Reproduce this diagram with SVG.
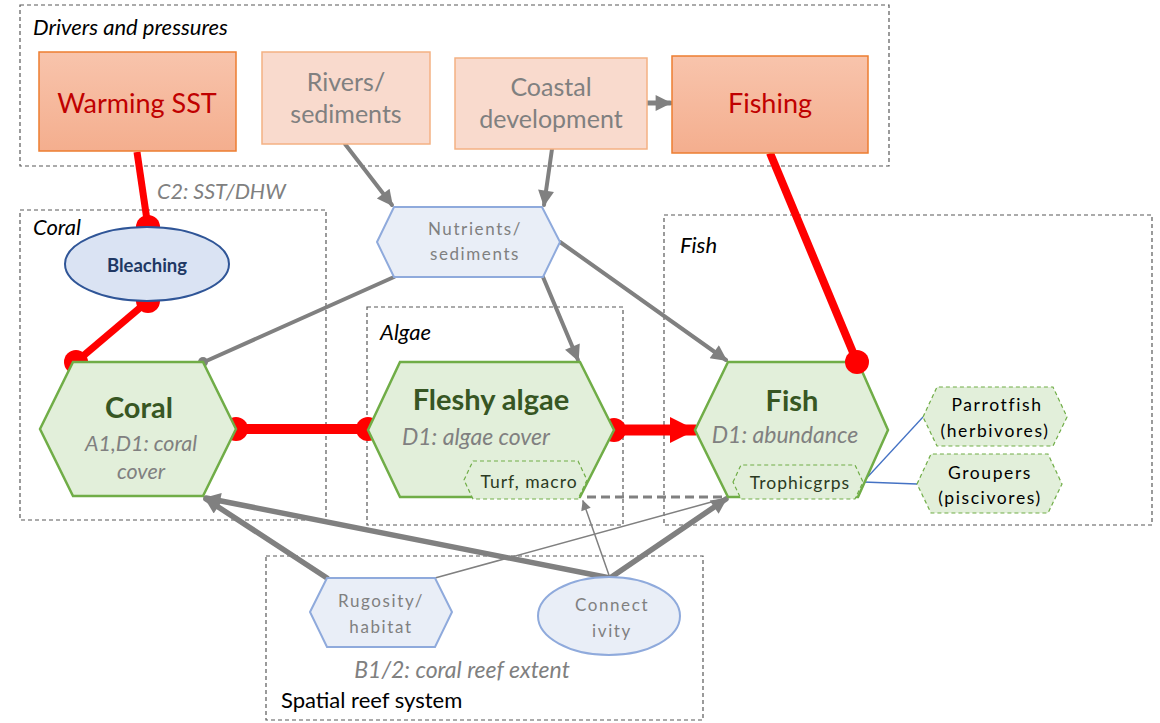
<svg xmlns="http://www.w3.org/2000/svg" width="1160" height="723" viewBox="0 0 1160 723">
<defs>
<linearGradient id="gOr" x1="0" y1="0" x2="0" y2="1"><stop offset="0" stop-color="#F8C4AC"/><stop offset="1" stop-color="#F4AE8E"/></linearGradient>
<marker id="ag" viewBox="0 0 10 10" refX="9" refY="5" markerWidth="18" markerHeight="16" markerUnits="userSpaceOnUse" orient="auto"><path d="M0,0 L10,5 L0,10 z" fill="#808080"/></marker>
<marker id="agS" viewBox="0 0 10 10" refX="9" refY="5" markerWidth="11" markerHeight="10" markerUnits="userSpaceOnUse" orient="auto"><path d="M0,0 L10,5 L0,10 z" fill="#808080"/></marker>
<marker id="ar" viewBox="0 0 10 10" refX="10" refY="5" markerWidth="26" markerHeight="26" markerUnits="userSpaceOnUse" orient="auto"><path d="M0,0 L10,5 L0,10 z" fill="#FF0000"/></marker>
</defs>
<style>
text{font-family:Lato,"Liberation Sans",sans-serif}
.grp{fill:none;stroke:#595959;stroke-width:1.2;stroke-dasharray:4,3}
.gl{font-style:italic;font-size:22px;fill:#000}
.drv{fill:url(#gOr);stroke:#ED7D31;stroke-width:1.5}
.drvL{fill:#F9DACD;stroke:#F4B183;stroke-width:1.5}
.drT{font-size:27px;fill:#C00000;text-anchor:middle}
.drG{font-size:25px;fill:#808080;text-anchor:middle}
.hex{fill:#E2EFDA;stroke:#70AD47;stroke-width:2.5}
.sub{fill:#E2EFDA;stroke:#70AD47;stroke-width:1.2;stroke-dasharray:4,3}
.blu{fill:#E9EEF7;stroke:#8FAADC;stroke-width:2}
.hT{font-size:29px;font-weight:bold;fill:#375623;text-anchor:middle}
.hS{font-size:23px;font-style:italic;fill:#808080;text-anchor:middle}
.sT{font-size:17.5px;fill:#2B3A22;text-anchor:middle;letter-spacing:1px}
.bT{font-size:17px;fill:#808080;text-anchor:middle;letter-spacing:1.6px}
.cg{stroke:#808080;fill:none;stroke-linecap:round}
.cr{stroke:#FF0000;fill:none}
</style>
<g id="group-drivers"><rect class="grp" x="20" y="5" width="869" height="161"/><text class="gl" x="33" y="35">Drivers and pressures</text></g>
<g id="group-coral"><rect class="grp" x="20" y="210" width="306" height="310"/><text class="gl" x="33" y="235">Coral</text></g>
<g id="group-algae"><rect class="grp" x="367" y="307" width="256" height="218"/><text class="gl" x="380" y="340">Algae</text></g>
<g id="group-fish"><rect class="grp" x="664" y="215" width="488" height="310"/><text class="gl" x="680" y="253">Fish</text></g>
<g id="group-spatial"><rect class="grp" x="266" y="556" width="437" height="164"/><text x="281" y="708" style="font-size:22px;fill:#000">Spatial reef system</text><text class="hS" x="462" y="678">B1/2: coral reef extent</text></g>

<g id="connectors">
<line class="cg" x1="647" y1="103" x2="670" y2="103" stroke-width="5" marker-end="url(#ag)"/>
<line class="cg" x1="345" y1="144" x2="392" y2="205" stroke-width="4" marker-end="url(#ag)"/>
<line class="cg" x1="552" y1="149" x2="544" y2="205" stroke-width="4" marker-end="url(#ag)"/>
<line class="cg" x1="394" y1="277" x2="204" y2="362" stroke-width="4"/>
<circle cx="203" cy="362" r="5" fill="#808080"/>
<line class="cg" x1="543" y1="277" x2="578" y2="360" stroke-width="4" marker-end="url(#ag)"/>
<line class="cg" x1="560" y1="242" x2="726" y2="360" stroke-width="4" marker-end="url(#ag)"/>
<line class="cg" x1="327" y1="578" x2="206" y2="499" stroke-width="5.5" marker-end="url(#ag)"/>
<line class="cg" x1="610" y1="578" x2="206" y2="498" stroke-width="5.5" marker-end="url(#ag)"/>
<line class="cg" x1="435" y1="578" x2="726" y2="498" stroke-width="1.5"/>
<line class="cg" x1="610" y1="578" x2="583" y2="501" stroke-width="1.5" marker-end="url(#agS)"/>
<line class="cg" x1="610" y1="578" x2="726" y2="499" stroke-width="5.5" marker-end="url(#ag)"/>
<line x1="587" y1="497" x2="728" y2="497" stroke="#808080" stroke-width="3" stroke-dasharray="9,5"/>
<line x1="863" y1="482" x2="923" y2="417" stroke="#4472C4" stroke-width="1.3"/>
<line x1="863" y1="482" x2="917" y2="484" stroke="#4472C4" stroke-width="1.3"/>
<line class="cr" x1="137" y1="152" x2="148" y2="227" stroke-width="7"/>
<circle cx="148" cy="227" r="12" fill="#FF0000"/>
<line class="cr" x1="148" y1="301" x2="76" y2="362" stroke-width="7"/>
<circle cx="148" cy="301" r="12" fill="#FF0000"/>
<circle cx="76" cy="362" r="12" fill="#FF0000"/>
<line class="cr" x1="770" y1="153" x2="857" y2="362" stroke-width="8"/>
<line class="cr" x1="236" y1="429" x2="368" y2="429" stroke-width="10"/>
<circle cx="236" cy="429" r="12" fill="#FF0000"/>
<circle cx="368" cy="429" r="12" fill="#FF0000"/>
<line class="cr" x1="614" y1="430" x2="696" y2="430" stroke-width="11" marker-end="url(#ar)"/>
<circle cx="614" cy="430" r="12" fill="#FF0000"/>
</g>

<g id="node-warming"><rect class="drv" x="39" y="52" width="197" height="99"/><text class="drT" x="137" y="113">Warming SST</text></g>
<g id="node-rivers"><rect class="drvL" x="262" y="52" width="168" height="92"/><text class="drG" x="346" y="91">Rivers/</text><text class="drG" x="346" y="123">sediments</text></g>
<g id="node-coastal"><rect class="drvL" x="455" y="58" width="192" height="91"/><text class="drG" x="551" y="96">Coastal</text><text class="drG" x="551" y="128">development</text></g>
<g id="node-fishing"><rect class="drv" x="672" y="56" width="196" height="97"/><text class="drT" x="770" y="113">Fishing</text></g>

<g id="node-bleaching"><ellipse cx="147" cy="264" rx="82" ry="37" fill="#DAE3F3" stroke="#2F5597" stroke-width="2"/><text x="147" y="272" style="font-size:18.5px;font-weight:bold;fill:#203864;text-anchor:middle">Bleaching</text></g>
<g id="node-nutrients"><polygon class="blu" points="377,242 394,207 542,207 560,242 543,277 394,277"/><text class="bT" x="475" y="235">Nutrients/</text><text class="bT" x="475" y="260">sediments</text></g>

<g id="node-coral"><polygon class="hex" points="40,429 73,362 203,362 236,429 203,496 73,496"/><text class="hT" x="139" y="418">Coral</text><text class="hS" x="141" y="451" style="font-size:21.5px">A1,D1: coral</text><text class="hS" x="141" y="479" style="font-size:21.5px">cover</text></g>
<g id="node-algae"><polygon class="hex" points="368,430 400,362 580,362 614,430 580,497 400,497"/><text class="hT" x="491" y="410">Fleshy algae</text><text class="hS" x="476" y="445">D1: algae cover</text>
<polygon class="sub" points="464,480 473,461 578,461 587,480 578,499 473,499"/><text class="sT" x="529" y="488">Turf, macro</text></g>
<g id="node-fish"><polygon class="hex" points="695,430 728,362 858,362 888,430 858,497 728,497"/><text class="hT" x="792" y="411">Fish</text><text class="hS" x="785" y="443">D1: abundance</text>
<polygon class="sub" points="733,482 741,465 855,465 863,482 855,499 741,499"/><text class="sT" x="800" y="489">Trophicgrps</text></g>
<circle cx="857" cy="362" r="12" fill="#FF0000"/>

<g id="node-parrotfish"><polygon class="sub" points="923,417 937,387 1053,387 1067,417 1053,446 937,446"/><text class="sT" x="997" y="411" style="fill:#000;letter-spacing:1.6px">Parrotfish</text><text class="sT" x="995" y="437" style="fill:#000;letter-spacing:1.6px">(herbivores)</text></g>
<g id="node-groupers"><polygon class="sub" points="917,484 931,454 1048,454 1062,484 1048,513 931,513"/><text class="sT" x="990" y="479" style="fill:#000;letter-spacing:1.6px">Groupers</text><text class="sT" x="990" y="504" style="fill:#000;letter-spacing:1.6px">(piscivores)</text></g>

<g id="node-rugosity"><polygon class="blu" points="310,612 327,578 435,578 452,612 435,647 327,647"/><text class="bT" x="381" y="607">Rugosity/</text><text class="bT" x="381" y="633">habitat</text></g>
<g id="node-connectivity"><ellipse cx="609" cy="616" rx="71" ry="39" fill="#E9EEF7" stroke="#8FAADC" stroke-width="2"/><text class="bT" x="612" y="611">Connect</text><text class="bT" x="612" y="637">ivity</text></g>

<text class="hS" x="157" y="199" style="text-anchor:start;font-size:21.5px">C2: SST/DHW</text>
</svg>
